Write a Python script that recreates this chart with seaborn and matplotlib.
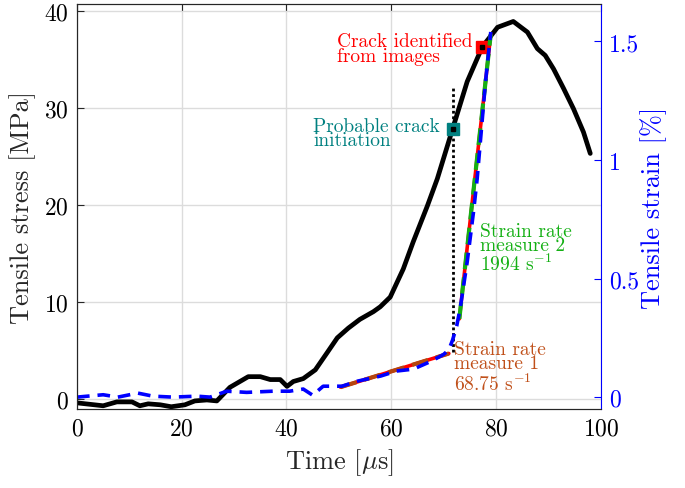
import matplotlib
matplotlib.use("Agg")
import matplotlib.pyplot as plt
import seaborn as sns

# stress curve [MPa] vs time [us]
t_stress = [0, 5, 7.6, 10.5, 12, 13.6, 15.9, 18, 20.6, 22.5, 24.8, 26.7, 29.2, 32.7, 35,
            36.9, 38.8, 40.1, 41.3, 43.2, 45.5, 47.8, 49.7, 51.8, 54, 56.6, 57.9, 59.8,
            62.3, 64.2, 66.9, 68.8, 71.7, 74.5, 77.4, 80.3, 83.3, 86, 87.9, 89.4, 91,
            92.9, 94.8, 96.7, 98]
stress = [-0.4, -0.7, -0.3, -0.3, -0.7, -0.5, -0.6, -0.8, -0.6, -0.2, -0.1, -0.2, 1.2, 2.3,
          2.3, 2.0, 2.0, 1.3, 1.8, 2.1, 3.0, 4.8, 6.3, 7.3, 8.2, 9.0, 9.5, 10.5, 13.4, 16.2,
          19.9, 22.7, 27.8, 32.7, 36.3, 38.3, 38.9, 37.8, 36.1, 35.4, 34.0, 32.0, 29.9,
          27.5, 25.3]

# strain curve [%] vs time [us]
t_strain = [0, 5, 7.8, 11.6, 14.5, 18.3, 22.9, 25.4, 28.6, 32.4, 37.4, 40.6, 43.2, 45,
            47, 50.6, 53.5, 58, 61, 64.2, 67.5, 70, 71, 71.7, 72.5, 73.2, 74.5, 75.7,
            76.4, 78, 79]
strain = [0, 0.01, 0.0, 0.017, 0.004, 0.0, 0.004, 0.0, 0.025, 0.02, 0.025, 0.025, 0.034,
          0.008, 0.046, 0.046, 0.067, 0.089, 0.11, 0.118, 0.15, 0.18, 0.2, 0.24, 0.3,
          0.38, 0.57, 0.78, 0.92, 1.33, 1.54]

# linear fits (strain rate measures)
fit1_t = [50.3, 71]
fit1_strain = [0.042, 0.184]
fit2_t = [73, 79]
fit2_strain = [0.33, 1.53]

# crack markers
crack_init = (71.7, 27.8)
crack_img = (77.4, 36.3)
dotted_t = [71.7, 71.7]
dotted_stress = [4.8, 32.0]

sns.set_style("white")
plt.rcParams["font.family"] = "serif"
plt.rcParams["font.serif"] = ["cmr10"]
plt.rcParams["mathtext.fontset"] = "cm"
plt.rcParams["axes.formatter.use_mathtext"] = True

fig = plt.figure(figsize=(6.85, 4.89), dpi=100)
ax = fig.add_axes([0.1124, 0.1616, 0.877 - 0.1124, 0.9898 - 0.1616])
ax2 = ax.twinx()

ax.grid(True, color="#dcdcdc", lw=1.0)
ax.set_axisbelow(True)

sns.lineplot(x=t_stress, y=stress, ax=ax, color="black", lw=3.4, sort=False, zorder=3)
ax.plot(dotted_t, dotted_stress, color="black", lw=2.0, linestyle=(0, (1, 1)), zorder=3)

# strain on right axis
sns.lineplot(x=fit1_t, y=fit1_strain, ax=ax2, color="red", lw=2.6, sort=False)
sns.lineplot(x=fit1_t, y=fit1_strain, ax=ax2, color="#b5460f", lw=3.0, sort=False,
             linestyle=(0, (4, 2)))
sns.lineplot(x=fit2_t, y=fit2_strain, ax=ax2, color="red", lw=2.6, sort=False)
sns.lineplot(x=fit2_t, y=fit2_strain, ax=ax2, color="#14b014", lw=3.0, sort=False,
             linestyle=(0, (4, 2)))
sns.lineplot(x=t_strain, y=strain, ax=ax2, color="blue", lw=2.6, sort=False,
             linestyle=(0, (3.5, 2.2)))

# crack markers
for (xm, ym), c in [(crack_init, "#008080"), (crack_img, "red")]:
    ax.plot(xm, ym, marker="s", ms=8, color=c, zorder=4)
    ax.plot(xm, ym, marker="s", ms=2.5, color="black", zorder=5)

ax.set_xlim(0, 100)
ax.set_ylim(-1.03, 40.7)
ax2.set_ylim(-0.05, 1.658)
ax.set_xticks([0, 20, 40, 60, 80, 100])
ax.set_yticks([0, 10, 20, 30, 40])
ax2.set_yticks([0, 0.5, 1, 1.5])
ax2.set_yticklabels(["0", "0.5", "1", "1.5"])

ax.tick_params(direction="in", length=5, labelsize=17, top=True, colors="#262626",
               labelcolor="black", pad=6)
ax.tick_params(axis="y", right=False)
ax2.tick_params(direction="in", length=5, labelsize=17, colors="blue", pad=6)
for s in ["left", "bottom", "top"]:
    ax.spines[s].set_color("#262626")
    ax2.spines[s].set_color("#262626")
ax2.spines["right"].set_color("blue")
ax.spines["right"].set_visible(False)

ax.set_xlabel("Time [$\\mu$s]", fontsize=19, labelpad=5)
ax.set_ylabel("Tensile stress [MPa]", fontsize=19, labelpad=6)
ax2.set_ylabel("Tensile strain [%]", fontsize=19, color="blue", labelpad=1)

# annotations
ax.text(49.7, 36.35, "Crack identified", color="red", fontsize=14, zorder=6)
ax.text(49.7, 34.8, "from images", color="red", fontsize=14, zorder=6)
ax.text(45.1, 27.65, "Probable crack", color="#008080", fontsize=14, zorder=6)
ax.text(45.1, 26.2, "initiation", color="#008080", fontsize=14, zorder=6)
ax.text(77.0, 16.75, "Strain rate", color="#14b014", fontsize=14, zorder=6)
ax.text(77.0, 15.3, "measure 2", color="#14b014", fontsize=14, zorder=6)
ax.text(77.0, 13.3, "1994 s$^{-1}$", color="#14b014", fontsize=14, zorder=6)
ax.text(72.0, 4.65, "Strain rate", color="#c0501a", fontsize=14, zorder=6)
ax.text(72.0, 3.15, "measure 1", color="#c0501a", fontsize=14, zorder=6)
ax.text(72.0, 0.95, "68.75 s$^{-1}$", color="#c0501a", fontsize=14, zorder=6)

fig.savefig("out.png", dpi=100)
